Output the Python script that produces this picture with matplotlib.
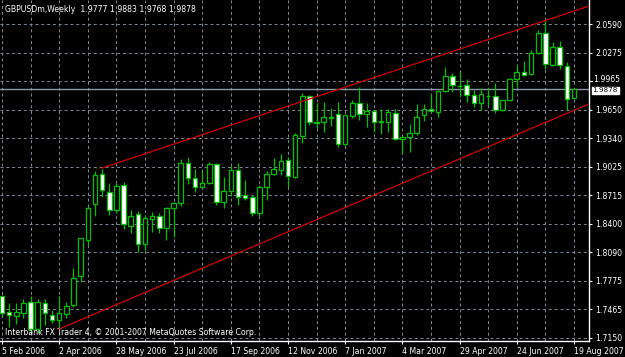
import numpy as np
from matplotlib import pyplot as plt
from matplotlib import transforms

# weekly GBPUSD bars, first bar = week of 5 Feb 2006, last = 19 Aug 2007
opens = [1.7613, 1.7432, 1.7394, 1.7421, 1.7548, 1.7249, 1.7537, 1.7402, 1.7347, 1.7410,
         1.7512, 1.7829, 1.8224, 1.8618, 1.8947, 1.8753, 1.8552, 1.8826, 1.8377, 1.8508,
         1.8180, 1.8450, 1.8487, 1.8352, 1.8571, 1.8626, 1.9064, 1.8906, 1.8801, 1.8845,
         1.9053, 1.8643, 1.8764, 1.8990, 1.8717, 1.8691, 1.8523, 1.8808, 1.8947, 1.8990,
         1.9100, 1.8918, 1.9366, 1.9801, 1.9510, 1.9513, 1.9560, 1.9600, 1.9275, 1.9585,
         1.9728, 1.9604, 1.9637, 1.9520, 1.9513, 1.9618, 1.9327, 1.9356, 1.9392, 1.9593,
         1.9655, 1.9629, 1.9859, 2.0019, 1.9915, 1.9922, 1.9812, 1.9721, 1.9800, 1.9804,
         1.9648, 1.9757, 1.9984, 2.0063, 2.0038, 2.0269, 2.0488, 2.0137, 2.0335, 2.0130,
         1.9777]
highs = [1.7620, 1.7537, 1.7530, 1.7577, 1.7610, 1.7574, 1.7577, 1.7457, 1.7613, 1.7548,
         1.7914, 1.8245, 1.8596, 1.8983, 1.9001, 1.8845, 1.8851, 1.8862, 1.8552, 1.8545,
         1.8501, 1.8527, 1.8516, 1.8588, 1.8640, 1.9111, 1.9130, 1.9001, 1.8990, 1.9075,
         1.9064, 1.8910, 1.9034, 1.9064, 1.8881, 1.8717, 1.8826, 1.8983, 1.9125, 1.9162,
         1.9136, 1.9392, 1.9831, 1.9812, 1.9721, 1.9738, 1.9666, 1.9738, 1.9604, 1.9757,
         1.9903, 1.9728, 1.9640, 1.9655, 1.9655, 1.9655, 1.9356, 1.9494, 1.9710, 1.9710,
         1.9823, 1.9867, 2.0122, 2.0056, 2.0067, 1.9984, 1.9867, 1.9885, 1.9885, 1.9947,
         1.9760, 1.9995, 2.0141, 2.0188, 2.0306, 2.0524, 2.0634, 2.0393, 2.0400, 2.0174,
         1.9883]
lows = [1.7380, 1.7274, 1.7303, 1.7366, 1.7219, 1.7208, 1.7292, 1.7311, 1.7238, 1.7372,
        1.7486, 1.7767, 1.8169, 1.8490, 1.8698, 1.8497, 1.8516, 1.8341, 1.8304, 1.8095,
        1.8114, 1.8308, 1.8297, 1.8224, 1.8260, 1.8600, 1.8837, 1.8753, 1.8795, 1.8834,
        1.8607, 1.8577, 1.8706, 1.8607, 1.8662, 1.8486, 1.8486, 1.8662, 1.8936, 1.8936,
        1.8808, 1.8900, 1.9283, 1.9483, 1.9450, 1.9410, 1.9472, 1.9239, 1.9264, 1.9557,
        1.9538, 1.9458, 1.9410, 1.9381, 1.9410, 1.9319, 1.9166, 1.9191, 1.9374, 1.9527,
        1.9629, 1.9568, 1.9848, 1.9848, 1.9794, 1.9739, 1.9684, 1.9648, 1.9702, 1.9611,
        1.9637, 1.9750, 1.9896, 2.0031, 2.0031, 2.0258, 2.0100, 2.0130, 2.0100, 1.9648,
        1.9768]
closes = [1.7421, 1.7402, 1.7438, 1.7530, 1.7249, 1.7544, 1.7421, 1.7347, 1.7421, 1.7501,
          1.7804, 1.8242, 1.8571, 1.8936, 1.8771, 1.8552, 1.8815, 1.8396, 1.8487, 1.8180,
          1.8461, 1.8487, 1.8352, 1.8571, 1.8632, 1.9064, 1.8900, 1.8801, 1.8845, 1.9053,
          1.8643, 1.8760, 1.8990, 1.8698, 1.8680, 1.8523, 1.8808, 1.8943, 1.9005, 1.9089,
          1.8925, 1.9374, 1.9804, 1.9520, 1.9520, 1.9574, 1.9570, 1.9275, 1.9590, 1.9728,
          1.9604, 1.9637, 1.9520, 1.9525, 1.9629, 1.9327, 1.9355, 1.9392, 1.9574, 1.9655,
          1.9632, 1.9859, 2.0019, 1.9922, 1.9910, 1.9812, 1.9728, 1.9823, 1.9805, 1.9648,
          1.9757, 1.9984, 2.0060, 2.0035, 2.0269, 2.0488, 2.0148, 2.0335, 2.0145, 1.9765,
          1.9878]

date_labels = ["5 Feb 2006", "2 Apr 2006", "28 May 2006", "23 Jul 2006", "17 Sep 2006",
               "12 Nov 2006", "7 Jan 2007", "4 Mar 2007", "29 Apr 2007", "24 Jun 2007",
               "19 Aug 2007"]
price_ticks = [1.7150, 1.7465, 1.7775, 1.8090, 1.8400, 1.8715, 1.9025, 1.9340,
               1.9650, 1.9965, 2.0275, 2.0590]
bid = 1.9878
# trend channel anchors (bar index, price)
upper_channel = [(14, 1.9012), (82.1, 2.0787)]
lower_channel = [(8, 1.7249), (82.1, 1.9714)]

green = "#00c000"
grid_color = "#7d8c9c"
fs = 5.6

fig = plt.figure(figsize=(6.25, 3.57), dpi=100, facecolor="black")
ax = fig.add_axes([0, 16 / 357, 589 / 625, 341 / 357], facecolor="black")

x = np.arange(len(opens))
o, h, l, c = map(np.array, (opens, highs, lows, closes))
bull = c >= o

# wicks then bodies (MT4 style: bull = black body, bear = white body)
ax.vlines(x, l, h, color=green, linewidth=0.9, zorder=3)
body_low = np.minimum(o, c)
body_h = np.maximum(np.abs(c - o), 0.0004)
ax.bar(x, body_h, bottom=body_low, width=0.64,
       color=np.where(bull, "black", "white"), edgecolor=green, linewidth=0.9, zorder=4)

for line in (upper_channel, lower_channel):
    xs, ys = zip(*line)
    ax.plot(xs, ys, color="#d00000", linewidth=0.9, zorder=5)

ax.axhline(bid, color="#8a9aab", linewidth=1, zorder=2)

ax.set_xlim(-0.28, 82.1)
ax.set_ylim(1.7117, 2.0853)

# grid
for p in price_ticks:
    ax.axhline(p, color=grid_color, linewidth=0.7, linestyle=(0, (3, 3)), zorder=1)
for i in range(0, 81, 4):
    ax.axvline(i, color=grid_color, linewidth=0.7, linestyle=(0, (3, 3)), zorder=1)

# the price level next to the bid marker is labelled by hand below
near_bid = [p for p in price_ticks if abs(p - bid) < 0.02]
ax.yaxis.tick_right()
ticks = [p for p in price_ticks if p not in near_bid]
ax.set_yticks(ticks, [f"{p:.4f}" for p in ticks])
ax.set_xticks(range(0, 81, 8), date_labels)
ax.tick_params(colors="white", labelsize=fs, length=2.5, width=0.8, pad=2)
for lbl in ax.get_xticklabels():
    lbl.set_horizontalalignment("left")
for side in ("top", "left"):
    ax.spines[side].set_visible(False)
for side in ("right", "bottom"):
    ax.spines[side].set_color("white")
    ax.spines[side].set_linewidth(1)

trans = transforms.blended_transform_factory(ax.transAxes, ax.transData)
for p in near_bid:
    ax.plot([1, 1.0045], [p, p], transform=trans, color="white", linewidth=0.8, clip_on=False)
    ax.text(1.0075, p + 0.0014, f"{p:.4f}", transform=trans, fontsize=fs, color="white",
            va="center", ha="left", clip_on=False)
# price marker on the axis
ax.text(1.006, bid - 0.0016, f"{bid:.4f}", transform=trans, fontsize=5.2, color="black",
        va="center", ha="left", clip_on=False, zorder=10,
        bbox=dict(boxstyle="square,pad=0.1", facecolor="white", edgecolor="white"))

ax.text(0.008, 0.985, "GBPUSDm,Weekly  1.9777 1.9883 1.9768 1.9878", transform=ax.transAxes,
        color="white", fontsize=fs, va="top", ha="left")
ax.text(0.008, 0.012, "Interbank FX Trader 4, \u00a9 2001-2007 MetaQuotes Software Corp.",
        transform=ax.transAxes, color="white", fontsize=fs, va="bottom", ha="left")

fig.savefig("out.png", dpi=100, facecolor="black")
